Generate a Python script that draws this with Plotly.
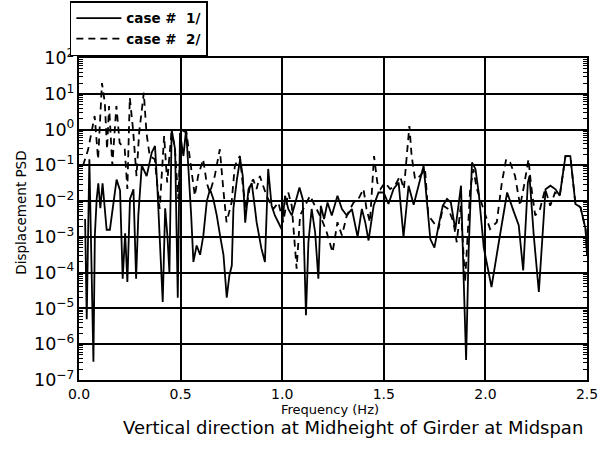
import plotly.graph_objects as go

# ---- data (frequency in Hz, log10 of displacement PSD) ----
case1_freq = [0.030, 0.038, 0.051, 0.071, 0.078, 0.087, 0.095, 0.105, 0.116, 0.136,
              0.152, 0.169, 0.185, 0.202, 0.215, 0.227, 0.238, 0.251, 0.268, 0.281,
              0.292, 0.309, 0.325, 0.333, 0.358, 0.374, 0.386, 0.399, 0.412, 0.424,
              0.435, 0.445, 0.456, 0.473, 0.486, 0.497, 0.514, 0.527, 0.538, 0.552,
              0.563, 0.579, 0.596, 0.612, 0.629, 0.645, 0.661, 0.678, 0.694, 0.711,
              0.727, 0.740, 0.752, 0.760, 0.777, 0.793, 0.806, 0.818, 0.834, 0.850,
              0.866, 0.874, 0.898, 0.915, 0.931, 0.948, 0.964, 0.981, 0.997, 1.014,
              1.030, 1.047, 1.063, 1.085, 1.101, 1.117, 1.129, 1.145, 1.162, 1.178,
              1.190, 1.206, 1.223, 1.244, 1.272, 1.294, 1.318, 1.343, 1.371, 1.392,
              1.409, 1.425, 1.450, 1.474, 1.499, 1.523, 1.548, 1.573, 1.597, 1.622,
              1.647, 1.671, 1.696, 1.729, 1.749, 1.770, 1.790, 1.811, 1.830, 1.852,
              1.880, 1.893, 1.905, 1.918, 1.934, 1.951, 1.967, 1.992, 2.030, 2.066,
              2.107, 2.140, 2.164, 2.186, 2.209, 2.217, 2.238, 2.263, 2.296, 2.320,
              2.345, 2.366, 2.394, 2.418, 2.443, 2.468, 2.493, 2.500]
case1_log10_psd = [-2.5, -5.3, -0.83, -6.49, -2.96, -1.94, -1.5, -2.2, -1.5, -2.8,
                   -2.8, -2.0, -1.4, -1.7, -4.17, -2.9, -4.26, -1.94, -1.67, -4.17,
                   -2.4, -1.0, -1.2, -1.3, -0.64, -0.46, -1.67, -3.5, -4.82, -2.2,
                   -2.96, -4.0, 0.0, -0.55, -4.7, -0.09, -0.74, 0.0, -1.0, -2.4,
                   -3.7, -3.24, -3.5, -2.96, -2.0, -1.67, -1.94, -2.4, -2.96, -3.5,
                   -4.7, -4.08, -3.8, -2.2, -1.4, -0.83, -1.3, -2.6, -1.67, -1.5,
                   -2.2, -2.59, -3.33, -3.7, -1.1, -2.13, -2.4, -2.59, -2.78, -1.85,
                   -2.22, -2.4, -2.04, -1.62, -1.94, -5.19, -3.15, -2.22, -2.87, -4.17,
                   -2.13, -2.5, -2.04, -2.4, -1.85, -2.22, -2.4, -2.22, -3.0, -2.22,
                   -2.6, -3.1, -2.13, -1.76, -1.76, -2.08, -1.66, -1.48, -3.0, -1.57,
                   -2.1, -1.57, -1.01, -3.06, -3.3, -2.67, -2.13, -1.94, -2.04, -2.8,
                   -1.57, -4.17, -6.44, -3.3, -0.92, -1.1, -1.76, -3.3, -4.4, -3.15,
                   -1.76, -2.3, -2.67, -3.94, -1.48, -1.3, -2.96, -4.54, -1.67, -1.57,
                   -1.67, -1.85, -0.74, -0.74, -2.08, -2.17, -2.78, -3.5]

case2_freq = [0.020, 0.045, 0.077, 0.094, 0.113, 0.127, 0.138, 0.148, 0.164, 0.184,
              0.200, 0.225, 0.238, 0.250, 0.266, 0.283, 0.296, 0.319, 0.332, 0.348,
              0.373, 0.397, 0.419, 0.434, 0.455, 0.471, 0.488, 0.504, 0.529, 0.545,
              0.570, 0.586, 0.611, 0.628, 0.644, 0.668, 0.693, 0.710, 0.726, 0.751,
              0.767, 0.792, 0.808, 0.824, 0.841, 0.857, 0.874, 0.890, 0.923, 0.956,
              0.981, 1.005, 1.030, 1.047, 1.071, 1.088, 1.104, 1.137, 1.161, 1.194,
              1.219, 1.248, 1.272, 1.294, 1.318, 1.351, 1.375, 1.400, 1.415, 1.432,
              1.452, 1.468, 1.484, 1.506, 1.531, 1.555, 1.580, 1.599, 1.613, 1.626,
              1.637, 1.654, 1.678, 1.703, 1.719, 1.744, 1.769, 1.793, 1.818, 1.843,
              1.859, 1.879, 1.900, 1.925, 1.941, 1.958, 2.023, 2.056, 2.081, 2.102,
              2.122, 2.146, 2.171, 2.190, 2.212, 2.225, 2.245, 2.269, 2.294, 2.319,
              2.343, 2.366, 2.394, 2.418, 2.443, 2.468, 2.493, 2.500]
case2_log10_psd = [-1.0, -0.56, 0.38, -0.83, 1.3, 0.75, -0.55, 0.66, -1.0, 0.66,
                   -0.37, -0.55, -1.66, 0.89, 0.0, -1.3, -0.09, 1.03, -0.09, -0.74,
                   -0.83, -2.22, -0.18, -1.48, -0.09, -0.46, -1.94, 0.0, -0.09, -0.74,
                   -1.85, -1.3, -0.83, -1.48, -1.76, -1.3, -0.55, -1.66, -2.59, -2.04,
                   -1.01, -0.74, -1.66, -2.22, -1.57, -1.39, -1.66, -1.3, -1.85, -2.22,
                   -2.04, -2.59, -1.76, -2.13, -3.89, -2.4, -2.22, -1.85, -2.13, -2.5,
                   -2.87, -3.43, -2.59, -2.96, -2.4, -2.04, -1.94, -1.66, -2.22, -2.59,
                   -0.74, -1.48, -1.66, -1.48, -1.66, -1.57, -1.3, -1.66, -0.74, 0.1,
                   -0.74, -1.39, -1.3, -1.11, -2.4, -2.59, -2.78, -2.13, -2.22, -2.59,
                   -3.15, -2.13, -4.26, -1.66, -1.11, -1.66, -2.78, -2.59, -1.48, -0.83,
                   -0.92, -1.3, -2.13, -1.57, -0.83, -1.57, -2.4, -2.22, -1.66, -2.13,
                   -1.76, -1.85, -0.74, -0.74, -2.08, -2.17, -2.78, -3.5]

NB = "\u00a0"
series_names = ["case" + NB + "#" + NB * 2 + "1/", "case" + NB + "#" + NB * 2 + "2/"]
x_tick_vals = [0.0, 0.5, 1.0, 1.5, 2.0, 2.5]
x_tick_text = ["0.0", "0.5", "1.0", "1.5", "2.0", "2.5"]

case1_psd = [10 ** v for v in case1_log10_psd]
case2_psd = [10 ** v for v in case2_log10_psd]

fig = go.Figure()
fig.add_trace(go.Scatter(x=case1_freq, y=case1_psd, mode="lines", name=series_names[0],
                         line=dict(color="black", width=1.8)))
fig.add_trace(go.Scatter(x=case2_freq, y=case2_psd, mode="lines", name=series_names[1],
                         line=dict(color="black", width=1.8, dash="7px,5px")))

tick_font = dict(family="DejaVu Sans", size=14, color="black")

fig.update_layout(
    width=609, height=450,
    margin=dict(l=79, r=22, t=58, b=70, autoexpand=False),
    paper_bgcolor="white", plot_bgcolor="white",
    showlegend=True,
    legend=dict(x=-0.018, y=1.176, xanchor="left", yanchor="top",
                bordercolor="black", borderwidth=1.5, bgcolor="white",
                font=dict(family="DejaVu Sans", size=13.5, color="black", weight="bold"),
                tracegroupgap=0, itemwidth=45),
    xaxis=dict(range=[0, 2.5], tickvals=x_tick_vals, ticktext=x_tick_text,
               tickfont=tick_font, showgrid=True, gridcolor="black", gridwidth=1.6,
               showline=True, linecolor="black", linewidth=1.6, mirror=True,
               ticks="", zeroline=False),
    yaxis=dict(type="log", range=[-7, 2], tickmode="linear", tick0=0, dtick=1,
               exponentformat="power", showexponent="all",
               labelalias={"1": "10<sup>0</sup>", "10": "10<sup>1</sup>"},
               tickfont=tick_font, showgrid=True, gridcolor="black", gridwidth=1.6,
               showline=True, linecolor="black", linewidth=1.6, mirror="allticks",
               ticks="inside", ticklen=5, tickcolor="black",
               minor=dict(ticks="inside", ticklen=4, tickcolor="black", showgrid=False),
               zeroline=False),
    annotations=[
        dict(text="Frequency (Hz)", x=0.494, y=-0.093, xref="paper", yref="paper",
             xanchor="center", yanchor="middle", showarrow=False,
             font=dict(family="DejaVu Sans", size=13, color="black")),
        dict(text="Displacement PSD", x=-0.116, y=0.52, xref="paper", yref="paper",
             xanchor="center", yanchor="middle", showarrow=False, textangle=-90,
             font=dict(family="DejaVu Sans", size=13.5, color="black")),
        dict(text="Vertical direction at Midheight of Girder at Midspan",
             x=0.540, y=-0.149, xref="paper", yref="paper",
             xanchor="center", yanchor="middle", showarrow=False,
             font=dict(family="DejaVu Sans", size=18, color="black")),
    ],
)

fig.write_html("out.html")
